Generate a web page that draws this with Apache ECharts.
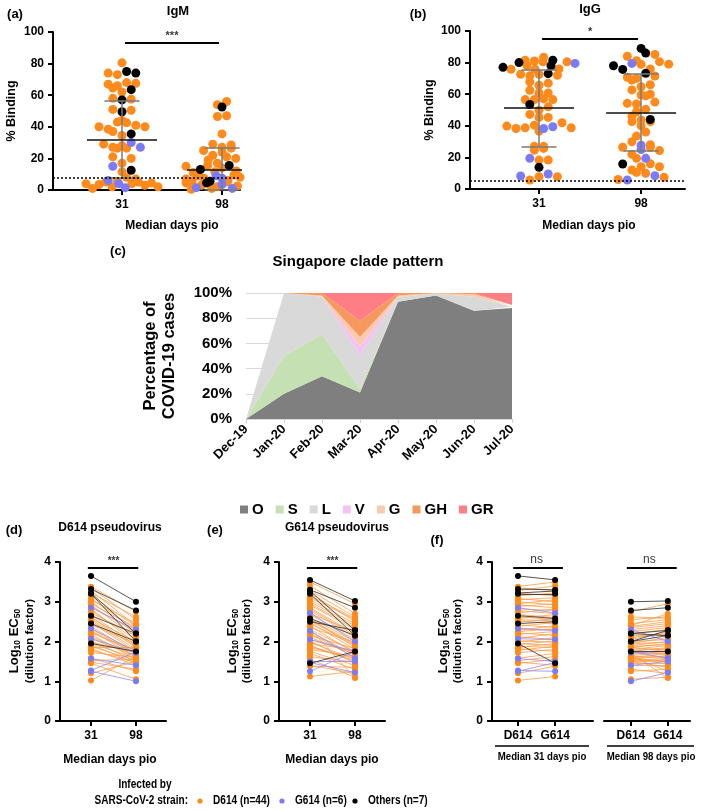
<!DOCTYPE html>
<html><head><meta charset="utf-8">
<script src="https://cdn.jsdelivr.net/npm/echarts@6/dist/echarts.min.js"></script>
<style>html,body{margin:0;padding:0;background:#fff}#c{width:709px;height:811px}</style>
</head><body><div id="c"></div>
<script>
// ================= DATA =================
const dayLabels = ['31', '98'];
const strainLabels = ['D614', 'G614'];

// (a) IgM % binding, by infecting strain
const igM_31_D614 = [80.5,74,73,68,67.5,67,66,64.5,62,58,57.5,51,50.5,44,43,42.5,41,40,40,38.5,37,34.5,29,28,27,26.5,26.5,21,20,17,11.5,8,7,5.5,5,5,4.5,4,4,3.5,3,2,2,1];
const igM_31_G614 = [30,27,15,6,4,1.5];
const igM_31_Other = [75,74,63.5,57,49.5,35.5,12.5];
const igM_98_D614 = [56,54,47,46.5,35.5,29,28.5,27,26.5,25,24,22,21,20,19,17,16,15.5,15,14.5,14,13,12,11.5,11,10,9.5,9,8.5,8,7.5,7,6.5,6,5.5,5,4.5,4,3,2.5,2,1.5,1,0.5];
const igM_98_G614 = [9,7.5,3.5,2.5,1.5,1];
const igM_98_Other = [52.5,23,15.5,13,5.5,5,4.5];
const igM_mean = [32, 13];
const igM_sdLow = [7.5, 0];
const igM_sdHigh = [56.5, 26.5];
const igM_cutoff = 8;
const igM_sig = '***';

// (b) IgG % binding
const igG_31_D614 = [83.4,81.5,81,80.5,80.5,78,76,75.8,75.8,72.6,72.6,72,71.6,67.8,67,65.7,62.5,60.8,60.8,57,56.6,56.6,56.6,52,49.9,47.2,45.3,45.3,41.9,40.4,39.8,38.7,38.7,38.3,36.6,27,27,25.7,24.6,18.3,18.3,7.8,7.8,5.7];
const igG_31_G614 = [79.5,39.4,38.3,19.4,9.5,8.2];
const igG_31_Other = [81.5,80,78,77,73,53.5,13.7];
const igG_98_D614 = [85.2,84,81.2,80.6,79,78.9,76,71.5,70.7,70,69,66,64.7,62.7,60,59.5,58.9,55,54.2,53.8,50.4,48.9,46,43.7,42.6,42.6,40,36,33.5,29.9,28,26.4,26.4,24.3,22,19.4,16,14.1,14.1,12,9.9,7.4,6,10.5];
const igG_98_G614 = [79.5,27.7,25,19.4,8.4,5.7];
const igG_98_Other = [89,86,78,75.7,73.2,44,15.8];
const igG_mean = [51.5, 48];
const igG_sdLow = [27, 24];
const igG_sdHigh = [75.5, 73];
const igG_cutoff = 5.5;
const igG_sig = '*';

// (c) Singapore clade pattern (% of cases)
const cladeMonths = ['Dec-19','Jan-20','Feb-20','Mar-20','Apr-20','May-20','Jun-20','Jul-20'];
const cladeNames = ['O','S','L','V','G','GH','GR'];
const clade_O  = [0,20,34,21,93,98,86,88];
const clade_S  = [0,30,33,3,0,0,0,0];
const clade_L  = [0,50,30,27,4,1.5,11,1];
const clade_V  = [0,0,0,7,0,0,0,0];
const clade_G  = [0,0,1,7,1,0.5,2,0.5];
const clade_GH = [0,0,2,13,2,0,1,1];
const clade_GR = [0,0,0,22,0,0,0,9.5];

// (d)-(f) log10 EC50 against D614 (dPV) and G614 (gPV) pseudovirus, at 31 and 98 days
const dPV_31_D614 = [3.38,3.35,3.28,3.22,3.15,3.08,3.05,3.00,2.95,2.92,2.88,2.82,2.78,2.72,2.68,2.62,2.58,2.52,2.48,2.42,2.38,2.32,2.28,2.22,2.18,2.12,2.08,2.02,1.98,1.95,1.92,1.88,1.85,1.82,1.78,1.72,1.58,1.52,1.48,1.45,1.20,1.02,2.55,2.25];
const dPV_98_D614 = [2.75,2.55,2.40,2.62,2.38,2.30,2.45,2.20,2.35,2.10,2.25,1.95,2.05,2.15,1.90,1.85,2.00,1.80,1.75,1.95,1.70,1.68,1.60,1.78,1.55,1.65,1.62,1.50,1.72,1.58,1.45,1.52,1.85,1.40,1.48,1.60,1.25,1.55,1.30,1.05,1.50,1.62,1.88,1.70];
const gPV_31_D614 = [3.50,3.28,3.40,3.15,3.22,3.00,3.10,2.92,3.05,2.85,2.95,2.78,2.70,2.82,2.60,2.55,2.68,2.45,2.58,2.35,2.48,2.30,2.40,2.15,2.25,2.05,2.20,1.98,2.10,1.90,2.02,1.85,1.95,1.75,1.88,1.80,1.70,1.62,1.40,1.55,1.38,1.12,2.52,2.32];
const gPV_98_D614 = [2.95,2.62,2.70,2.58,2.50,2.40,2.55,2.30,2.45,2.20,2.35,2.10,2.25,2.15,2.00,1.95,2.05,1.90,1.85,1.98,1.80,1.75,1.70,1.82,1.65,1.72,1.60,1.55,1.68,1.50,1.45,1.58,1.78,1.40,1.52,1.62,1.30,1.48,1.20,1.10,1.35,1.25,1.92,1.08];
const dPV_31_G614 = [2.85,2.33,2.07,1.57,1.27,1.25];
const dPV_98_G614 = [2.30,1.75,1.72,1.40,1.74,1.00];
const gPV_31_G614 = [2.72,2.27,2.05,1.50,1.25,1.47];
const gPV_98_G614 = [2.00,1.58,1.75,1.50,1.75,1.22];
const dPV_31_Other = [3.65,3.32,3.22,3.20,2.65,2.45,1.95];
const dPV_98_Other = [3.00,2.78,2.20,2.00,2.20,2.00,1.75];
const gPV_31_Other = [3.55,3.30,3.27,3.20,2.58,2.50,1.45];
const gPV_98_Other = [3.02,2.85,2.28,2.15,2.15,2.28,1.75];
const neutSig = ['***', '***', 'ns', 'ns'];
const neutSigLevel = 3.86;

const legendStrains = ['D614 (n=44)', 'G614 (n=6)', 'Others (n=7)'];

// ================= STYLE / LAYOUT =================
const F = '"Liberation Sans", Arial, Helvetica, sans-serif';
const C_OR = '#ff8a1c', C_BL = '#7b7bf7', C_BK = '#000000';
const L_OR = '#fb9d4a', L_BL = '#8c8cff', L_BK = '#2a2a2a';
const cladeColors = ['#7f7f7f','#c5e0b3','#d9d9d9','#f6c2f3','#f8cbad','#f5995f','#ff7d84'];

const G = [
  {left:53, top:32, width:187, height:158, xmin:0.31, xmax:2.18, ymax:100},   // a
  {left:470, top:31, width:215, height:158, xmin:0.324, xmax:2.43, ymax:100}, // b
  {left:246, top:293, width:266, height:126},                                 // c
  {left:60, top:562, width:106, height:159, xmin:0.311, xmax:2.667, ymax:4},  // d
  {left:279, top:562, width:106, height:159, xmin:0.311, xmax:2.667, ymax:4}, // e
  {left:492, top:562, width:101, height:159, xmin:0.30, xmax:3.02, ymax:4},   // f1
  {left:604, top:562, width:86, height:159, xmin:0.27, xmax:2.6, ymax:4}      // f2
];

// ================= HELPERS =================
function gcd(a, b) { return b ? gcd(b, a % b) : a; }
// Prism-like column scatter: bin values into rows one dot high, spread each row horizontally.
function rowScatter(groups, center, pxX, pxY, dot, gap, maxW) {
  const pts = [];
  groups.forEach((arr, g) => arr.forEach(v => pts.push({v, g})));
  const h = dot / pxY;
  const bins = {};
  pts.forEach(p => { const k = Math.floor(p.v / h); (bins[k] = bins[k] || []).push(p); });
  const out = [];
  Object.keys(bins).forEach(k => {
    const row = bins[k].sort((a, b) => a.v - b.v);
    const n = row.length;
    let sp = gap;
    if (n > 1 && (n - 1) * sp > maxW) sp = maxW / (n - 1);
    let s = 3; while (n > 2 && gcd(s, n) !== 1) s++;
    row.forEach((p, i) => {
      const slot = n > 2 ? (i * s + 1) % n : i;
      out.push({g: p.g, v: p.v, x: center + ((slot - (n - 1) / 2) * sp) / pxX});
    });
  });
  return out;
}

const axisCommon = {
  axisLine: {show: true, lineStyle: {color: '#000', width: 2}},
  axisTick: {show: true, length: 5, lineStyle: {color: '#000', width: 2}},
  axisLabel: {color: '#000', fontFamily: F, fontWeight: 'bold', fontSize: 12, margin: 9},
  splitLine: {show: false}
};
function xVal(gi, labels, extra) {
  const g = G[gi];
  return Object.assign({}, axisCommon, {
    type: 'value', gridIndex: gi, min: g.xmin, max: g.xmax,
    axisTick: Object.assign({}, axisCommon.axisTick, {customValues: [1, 2]}),
    axisLabel: Object.assign({}, axisCommon.axisLabel, {customValues: [1, 2], formatter: v => labels[Math.round(v) - 1]})
  }, extra || {});
}
function yVal(gi, interval, extra) {
  return Object.assign({}, axisCommon, {
    type: 'value', gridIndex: gi, min: 0, max: G[gi].ymax, interval
  }, extra || {});
}
function segs(gi, list, color, width, z, type) {
  return {type: 'lines', coordinateSystem: 'cartesian2d', xAxisIndex: gi, yAxisIndex: gi,
    polyline: false, silent: true, z: z,
    lineStyle: {color, width, opacity: 1, type: type || 'solid', curveness: 0},
    data: list.map(c => ({coords: c}))};
}
function sigLabel(gi, x, y, text, bold, size) {
  return {type: 'scatter', xAxisIndex: gi, yAxisIndex: gi, symbolSize: 1, silent: true, z: 20,
    itemStyle: {color: 'rgba(0,0,0,0)'},
    label: {show: true, position: 'top', distance: 1, formatter: text, color: '#000',
      fontFamily: F, fontWeight: bold ? 'bold' : 'normal', fontSize: size},
    data: [[x, y]]};
}

const series = [];

// ---- (a) and (b) scatter dot plots ----
function dotPanel(gi, cols, means, lo, hi, cutoff, sig, sigY) {
  const g = G[gi];
  const pxX = g.width / (g.xmax - g.xmin), pxY = g.height / g.ymax;
  const byGroup = [[], [], []];
  cols.forEach((grp, ci) => {
    rowScatter(grp, ci + 1, pxX, pxY, 8.5, 9.2, 72).forEach(p => byGroup[p.g].push([p.x, p.v]));
  });
  const cols3 = [C_OR, C_BL, C_BK];
  byGroup.forEach((d, k) => series.push({type: 'scatter', xAxisIndex: gi, yAxisIndex: gi, symbolSize: 9,
    silent: true, z: 3 + k, itemStyle: {color: cols3[k], opacity: 1}, data: d}));
  const hm = 35 / pxX, hc = 17.5 / pxX;
  const meanL = [], sdL = [];
  means.forEach((m, i) => {
    const c = i + 1;
    meanL.push([[c - hm, m], [c + hm, m]]);
    sdL.push([[c, lo[i]], [c, hi[i]]], [[c - hc, hi[i]], [c + hc, hi[i]]], [[c - hc, lo[i]], [c + hc, lo[i]]]);
  });
  series.push(segs(gi, sdL, '#7a7a7a', 1.5, 8));
  series.push(segs(gi, meanL, '#111', 1.6, 9));
  series.push(segs(gi, [[[g.xmin, cutoff], [g.xmax, cutoff]]], '#000', 1.5, 10, [2, 2]));
  series.push(segs(gi, [[[1.03, sigY], [1.97, sigY]]], '#000', 2.2, 10));
  series.push(sigLabel(gi, 1.5, sigY, sig, true, 11));
}
dotPanel(0, [[igM_31_D614, igM_31_G614, igM_31_Other], [igM_98_D614, igM_98_G614, igM_98_Other]],
  igM_mean, igM_sdLow, igM_sdHigh, igM_cutoff, igM_sig, 93);
dotPanel(1, [[igG_31_D614, igG_31_G614, igG_31_Other], [igG_98_D614, igG_98_G614, igG_98_Other]],
  igG_mean, igG_sdLow, igG_sdHigh, igG_cutoff, igG_sig, 95);

// ---- (c) stacked area ----
const cladeData = [clade_O, clade_S, clade_L, clade_V, clade_G, clade_GH, clade_GR];
cladeNames.forEach((n, i) => series.push({
  name: n, type: 'line', xAxisIndex: 2, yAxisIndex: 2, stack: 'clade', symbol: 'none', silent: true,
  lineStyle: {width: 0}, areaStyle: {color: cladeColors[i], opacity: 1}, itemStyle: {color: cladeColors[i]},
  data: cladeData[i]
}));

// ---- (d)-(f) paired lines ----
function pairs(gi, A, B, col, lcol, z) {
  series.push({type: 'lines', coordinateSystem: 'cartesian2d', xAxisIndex: gi, yAxisIndex: gi, polyline: false,
    silent: true, z: z, lineStyle: {color: lcol, width: 0.8, opacity: 1, curveness: 0},
    data: A.map((a, i) => ({coords: [[1, a], [2, B[i]]]}))});
  series.push({type: 'scatter', xAxisIndex: gi, yAxisIndex: gi, symbolSize: 6, silent: true, z: z + 1,
    itemStyle: {color: col, opacity: 1}, data: A.map(a => [1, a]).concat(B.map(b => [2, b]))});
}
function neutPanel(gi, sets, sig, x0, x1) {
  const cols = [[C_OR, L_OR], [C_BL, L_BL], [C_BK, L_BK]];
  sets.forEach((s, k) => pairs(gi, s[0], s[1], cols[k][0], cols[k][1], 3 + 2 * k));
  series.push(segs(gi, [[[x0, neutSigLevel], [x1, neutSigLevel]]], '#000', 2.2, 12));
  series.push(sigLabel(gi, 1.5, neutSigLevel, sig, sig !== 'ns', sig === 'ns' ? 12 : 10));
}
neutPanel(3, [[dPV_31_D614, dPV_98_D614], [dPV_31_G614, dPV_98_G614], [dPV_31_Other, dPV_98_Other]], neutSig[0], 0.93, 2.05);
neutPanel(4, [[gPV_31_D614, gPV_98_D614], [gPV_31_G614, gPV_98_G614], [gPV_31_Other, gPV_98_Other]], neutSig[1], 0.93, 2.05);
neutPanel(5, [[dPV_31_D614, gPV_31_D614], [dPV_31_G614, gPV_31_G614], [dPV_31_Other, gPV_31_Other]], neutSig[2], 0.87, 2.21);
neutPanel(6, [[dPV_98_D614, gPV_98_D614], [dPV_98_G614, gPV_98_G614], [dPV_98_Other, gPV_98_Other]], neutSig[3], 0.89, 2.24);

// ================= AXES =================
const xAxis = [
  xVal(0, dayLabels), xVal(1, dayLabels),
  {type: 'category', gridIndex: 2, data: cladeMonths, boundaryGap: false,
    axisLine: {show: true, lineStyle: {color: '#d9d9d9', width: 1}},
    axisTick: {show: true, length: 4, lineStyle: {color: '#d0d0d0'}},
    axisLabel: {rotate: 45, color: '#000', fontFamily: F, fontWeight: 'bold', fontSize: 13, margin: 8}},
  xVal(3, dayLabels), xVal(4, dayLabels), xVal(5, strainLabels), xVal(6, strainLabels)
];
const yAxis = [
  yVal(0, 20), yVal(1, 20),
  {type: 'value', gridIndex: 2, min: 0, max: 100, interval: 20,
    axisLine: {show: false}, axisTick: {show: false},
    splitLine: {show: true, lineStyle: {color: '#d9d9d9', width: 1}},
    axisLabel: {formatter: '{value}%', color: '#000', fontFamily: F, fontWeight: 'bold', fontSize: 15, margin: 14}},
  yVal(3, 1), yVal(4, 1), yVal(5, 1),
  yVal(6, 1, {show: false})
];

const grid = G.map(g => ({left: g.left, top: g.top, width: g.width, height: g.height, containLabel: false, outerBoundsMode: 'none'}));

// ================= TEXT =================
function T(x, y, text, size, opts) {
  opts = opts || {};
  const el = {type: 'text', x, y, rotation: opts.rot ? Math.PI / 2 : 0, z: 50, silent: true,
    style: Object.assign({text, fill: '#000', font: (opts.w || 'bold') + ' ' + size + 'px ' + F,
      textAlign: opts.align || 'center', textVerticalAlign: 'middle'}, opts.rich ? {rich: opts.rich} : {})};
  if (opts.sx) { el.scaleX = opts.sx; }
  return el;
}
const logRich = {
  a: {fontFamily: F, fontWeight: 'bold', fontSize: 13, lineHeight: 16, verticalAlign: 'middle'},
  s: {fontFamily: F, fontWeight: 'bold', fontSize: 8.5, lineHeight: 8, verticalAlign: 'bottom'}
};
const logText = '{a|Log}{s|10}{a| EC}{s|50}';
const NX = 0.84; // condensed text
const graphic = [
  T(15, 14, '(a)', 13), T(178, 11, 'IgM', 13), T(12, 111, '% Binding', 12.5, {rot: true}), T(172, 226, 'Median days pio', 12),
  T(418, 14, '(b)', 13), T(590, 9, 'IgG', 13), T(430, 110, '% Binding', 12.5, {rot: true}), T(589, 226, 'Median days pio', 12),
  T(118, 251, '(c)', 13), T(358, 262, 'Singapore clade pattern', 15),
  T(150, 356, 'Percentage of', 16.5, {rot: true}), T(169, 356, 'COVID-19 cases', 16.5, {rot: true}),
  T(14, 530, '(d)', 13), T(110, 528, 'D614 pseudovirus', 12),
  T(215, 530, '(e)', 13), T(337, 528, 'G614 pseudovirus', 12),
  T(437, 540, '(f)', 13),
  T(14, 641, logText, 13, {rot: true, rich: logRich}), T(30, 641, '(dilution factor)', 11.5, {rot: true}),
  T(232, 641, logText, 13, {rot: true, rich: logRich}), T(247, 641, '(dilution factor)', 11.5, {rot: true}),
  T(443, 641, logText, 13, {rot: true, rich: logRich}), T(458, 641, '(dilution factor)', 11.5, {rot: true}),
  T(110, 760, 'Median days pio', 12), T(332, 760, 'Median days pio', 12),
  {type: 'line', z: 50, silent: true, shape: {x1: 495, y1: 746, x2: 589, y2: 746}, style: {stroke: '#000', lineWidth: 1.5}},
  {type: 'line', z: 50, silent: true, shape: {x1: 607, y1: 746, x2: 694, y2: 746}, style: {stroke: '#000', lineWidth: 1.5}},
  T(542, 757, 'Median 31 days pio', 11.5, {sx: NX}), T(651, 757, 'Median 98 days pio', 11.5, {sx: NX}),
  T(145, 785, 'Infected by', 12, {sx: NX}),
  T(188, 801, 'SARS-CoV-2 strain:', 12, {sx: NX, align: 'right'}),
  {type: 'circle', z: 50, silent: true, shape: {cx: 200, cy: 801, r: 2.6}, style: {fill: C_OR}},
  T(213, 801, legendStrains[0], 12, {sx: NX, align: 'left'}),
  {type: 'circle', z: 50, silent: true, shape: {cx: 282, cy: 801, r: 2.6}, style: {fill: C_BL}},
  T(295, 801, legendStrains[1], 12, {sx: NX, align: 'left'}),
  {type: 'circle', z: 50, silent: true, shape: {cx: 355, cy: 801, r: 2.6}, style: {fill: C_BK}},
  T(368, 801, legendStrains[2], 12, {sx: NX, align: 'left'})
];

const chart = echarts.init(document.getElementById('c'), null, {renderer: 'canvas'});
chart.setOption({
  animation: false,
  backgroundColor: '#fff',
  textStyle: {fontFamily: F},
  grid, xAxis, yAxis, series, graphic,
  legend: {data: cladeNames, left: 235, top: 497, icon: 'rect', itemWidth: 8, itemHeight: 8, itemGap: 12,
    selectedMode: false, textStyle: {fontFamily: F, fontWeight: 'bold', fontSize: 15, color: '#000', padding: [0, 0, 0, -1]}}
});
</script></body></html>
